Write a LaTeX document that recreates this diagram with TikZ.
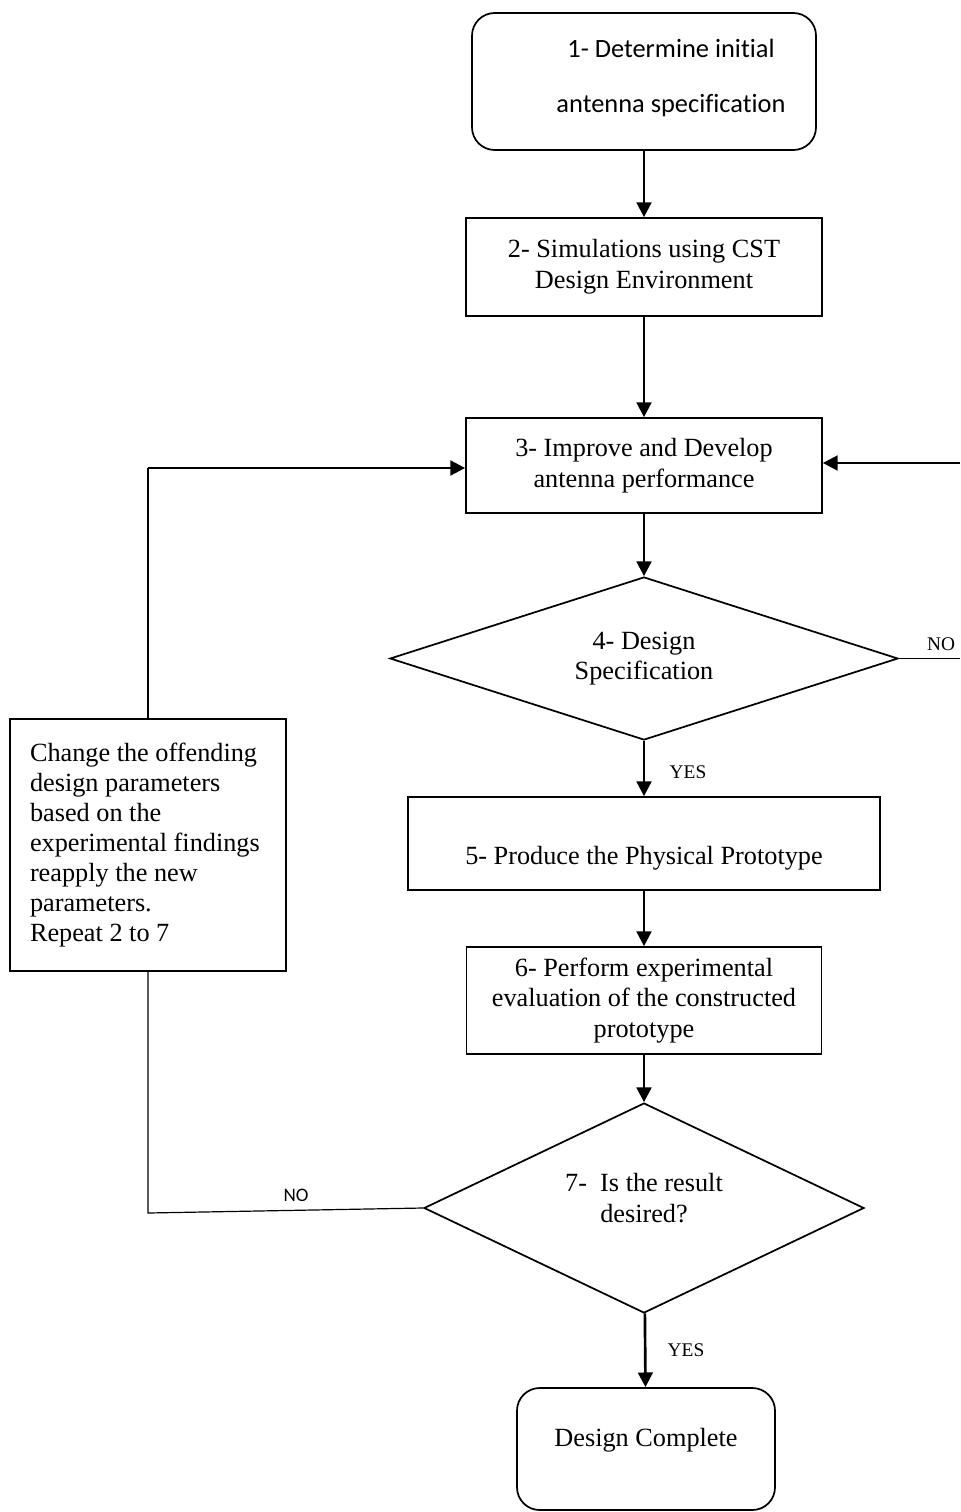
\documentclass[tikz,border=0pt]{standalone}
\usepackage{fontspec}
\setmainfont[Ligatures=NoCommon]{Liberation Serif}
\newfontfamily\calibfont[Ligatures=NoCommon]{Carlito}
\usetikzlibrary{arrows.meta,shapes.geometric}

\begin{document}
\begin{tikzpicture}[x=0.75pt,y=-0.75pt,
  font=\fontsize{19.7}{23}\selectfont,
  procbox/.style={draw,line width=1.3pt,inner sep=0pt,align=center},
  endbox/.style={procbox,rounded corners=17pt},
  decide/.style={draw,diamond,line width=1.3pt,inner sep=0pt,align=center},
  flow/.style={line width=2pt,-{Triangle[length=11pt,width=11pt]}},
  backline/.style={line width=0.9pt},
  tag/.style={font=\fontsize{14.5}{17}\selectfont}]
  \useasboundingbox (0,0) rectangle (960,1512);

  % main column
  \node[endbox,minimum width=258pt,minimum height=102.75pt] (start) at (644,81.5) {};
  \node[font=\calibfont\fontsize{19.8}{41}\selectfont,align=center] (startlbl) at (671,78)
    {1- Determine initial\\antenna specification};
  \node[procbox,minimum width=267pt,minimum height=73.5pt] (sim) at (644,267)
    {2- Simulations using CST\\Design Environment};
  \node[procbox,minimum width=267pt,minimum height=71.25pt] (improve) at (644,465.5)
    {3- Improve and Develop\\antenna performance};
  \node[decide,aspect=3.1,minimum width=381pt,minimum height=122.25pt] (spec) at (644,658.5)
    {4- Design\\Specification};
  \node[procbox,minimum width=354pt,minimum height=69.75pt] (proto) at (644,843.5) {};
  \node (protolbl) at (644,858) {5- Produce the Physical Prototype};
  \node[procbox,minimum width=266.25pt,minimum height=80.25pt] (evalu) at (644,1000.5)
    {6- Perform experimental\\evaluation of the constructed\\prototype};
  \node[decide,aspect=2.1,minimum width=330pt,minimum height=157.5pt] (result) at (644,1208) {};
  \node[align=center] (resultlbl) at (644,1198) {7-\ \ Is the result\\desired?};
  \node[endbox,minimum width=193.5pt,minimum height=91.5pt] (done) at (646,1449) {};
  \node (donelbl) at (646,1440) {Design Complete};

  % feedback box
  \node[procbox,align=flush left,text width=177pt,minimum width=207pt,minimum height=189pt,
        font=\fontsize{19.7}{22.5}\selectfont] (change) at (148,845)
    {Change the offending\\design parameters\\based on the\\experimental findings\\reapply the new\\parameters.\\Repeat 2 to 7};

  \draw[flow] (start) -- (sim);
  \draw[flow] (sim) -- (improve);
  \draw[flow] (improve) -- (spec);
  \draw[flow] (spec) -- (proto);
  \draw[flow] (proto) -- (evalu);
  \draw[flow] (evalu) -- (result);
  \draw[flow] (result) -- (done);

  % loops
  \coordinate (rno) at (960,658.5);
  \coordinate (rin) at (960,463);
  \draw[backline] (spec.east) -- (rno);
  \draw[flow] (rin) -- (rin -| improve.east);
  \coordinate (lno) at (148,1213);
  \coordinate (lup) at (148,468);
  \draw[backline] (result.west) -- (lno) -- (change.south);
  \draw[backline] (change.north) -- (lup);
  \draw[flow] (lup) -- (lup -| improve.west);

  \node[tag] (yes1) at (688,772) {YES};
  \node[tag] (no1) at (941,644) {NO};
  \node[tag] (yes2) at (686,1350) {YES};
  \node[font=\calibfont\fontsize{14.3}{17}\selectfont] (no2) at (296,1195) {NO};
\end{tikzpicture}
\end{document}
